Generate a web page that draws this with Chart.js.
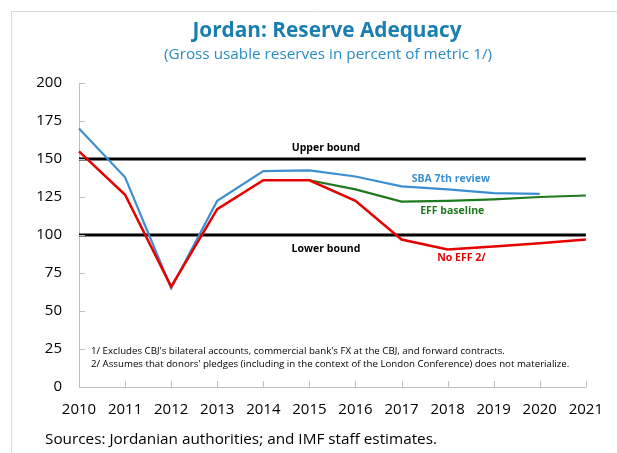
<!DOCTYPE html>
<html>
<head>
<meta charset="utf-8">
<script src="https://cdn.jsdelivr.net/npm/chart.js@4.4.1/dist/chart.umd.min.js"></script>
<style>
  html, body { margin: 0; padding: 0; background: #fff; }
</style>
</head>
<body>
<canvas id="reserveChart" width="617" height="453"></canvas>
<script>
const years = ['2010', '2011', '2012', '2013', '2014', '2015', '2016', '2017', '2018', '2019', '2020', '2021'];
const sba7thReview = [170, 138, 65, 122.5, 142, 142.5, 138.5, 132, 130, 127.5, 127, null];
const effBaseline = [null, null, null, null, null, 136, 130, 122, 122.5, 123.5, 125, 126];
const noEff = [155, 126.5, 66, 117, 136, 136, 122.5, 97, 90.5, 92.5, 94.5, 97];
const upperBound = years.map(() => 150);
const lowerBound = years.map(() => 100);
const yMin = 0, yMax = 200, yStep = 25;

const footnotes = [
    "1/ Excludes CBJ's bilateral accounts, commercial bank's FX at the CBJ, and forward contracts.",
    "2/ Assumes that donors' pledges (including in the context of the London Conference) does not materialize."
];
const sourceNote = 'Sources: Jordanian authorities; and IMF staff estimates.';

const FONT = '"Open Sans", "DejaVu Sans", sans-serif';

// frame, inside ticks, titles and line labels
const decorations = {
    id: 'decorations',
    beforeDraw(chart) {
        const ctx = chart.ctx;
        ctx.save();
        ctx.strokeStyle = '#d9d9d9';
        ctx.lineWidth = 1;
        ctx.beginPath();
        ctx.moveTo(11.5, 453);
        ctx.lineTo(11.5, 11.5);
        ctx.lineTo(617, 11.5);
        ctx.stroke();
        ctx.restore();
    },
    afterDraw(chart) {
        const ctx = chart.ctx;
        const x = chart.scales.x;
        const y = chart.scales.y;
        const area = chart.chartArea;
        ctx.save();

        // ticks pointing into the plot
        ctx.strokeStyle = '#bfbfbf';
        ctx.lineWidth = 1;
        ctx.beginPath();
        x.ticks.forEach((t, i) => {
            const px = Math.round(x.getPixelForTick(i)) + 0.5;
            ctx.moveTo(px, area.bottom);
            ctx.lineTo(px, area.bottom - 6);
        });
        y.ticks.forEach((t, i) => {
            const py = Math.round(y.getPixelForTick(i)) + 0.5;
            ctx.moveTo(area.left, py);
            ctx.lineTo(area.left + 6, py);
        });
        ctx.stroke();

        // titles
        ctx.textAlign = 'center';
        ctx.textBaseline = 'middle';
        ctx.fillStyle = '#1a7fb0';
        ctx.font = 'bold 20.8px ' + FONT;
        ctx.fillText('Jordan: Reserve Adequacy', 327, 31);
        ctx.fillStyle = '#2a8cc2';
        ctx.font = '15.3px ' + FONT;
        ctx.fillText('(Gross usable reserves in percent of metric 1/)', 328, 55);

        // bound and series labels
        ctx.font = 'bold 10.5px ' + FONT;
        ctx.fillStyle = '#000';
        ctx.fillText('Upper bound', x.getPixelForValue(5.36), y.getPixelForValue(157));
        ctx.fillText('Lower bound', x.getPixelForValue(5.36), y.getPixelForValue(91));
        ctx.fillStyle = '#3b8fd1';
        ctx.fillText('SBA 7th review', x.getPixelForValue(8.07), y.getPixelForValue(137));
        ctx.fillStyle = '#1f7a1f';
        ctx.fillText('EFF baseline', x.getPixelForValue(8.1), y.getPixelForValue(116));
        ctx.fillStyle = '#e60000';
        ctx.fillText('No EFF 2/', x.getPixelForValue(8.3), y.getPixelForValue(85));

        // footnotes
        ctx.textAlign = 'left';
        ctx.fillStyle = '#000';
        ctx.font = '9.7px ' + FONT;
        ctx.fillText(footnotes[0], 91, 351);
        ctx.fillText(footnotes[1], 91, 364);

        // sources
        ctx.font = '15.3px ' + FONT;
        ctx.fillText(sourceNote, 45, 440);
        ctx.restore();
    }
};

new Chart(document.getElementById('reserveChart'), {
    type: 'line',
    data: {
        labels: years,
        datasets: [
            { label: 'No EFF 2/', data: noEff, borderColor: '#e60000', borderWidth: 2.5, order: 1 },
            { label: 'SBA 7th review', data: sba7thReview, borderColor: '#3b8fd1', borderWidth: 2.2, order: 2 },
            { label: 'EFF baseline', data: effBaseline, borderColor: '#1f7a1f', borderWidth: 2.2, order: 3 },
            { label: 'Upper bound', data: upperBound, borderColor: '#000', borderWidth: 3, order: 4 },
            { label: 'Lower bound', data: lowerBound, borderColor: '#000', borderWidth: 3, order: 4 }
        ]
    },
    options: {
        responsive: false,
        animation: false,
        spanGaps: false,
        elements: {
            point: { radius: 0, hoverRadius: 0 },
            line: { tension: 0, borderCapStyle: 'butt' }
        },
        layout: { padding: { left: 0, right: 31, top: 83, bottom: 31 } },
        plugins: {
            legend: { display: false },
            title: { display: false },
            tooltip: { enabled: false }
        },
        scales: {
            x: {
                offset: false,
                grid: { display: true, drawOnChartArea: false, drawTicks: false },
                border: { color: '#bfbfbf', width: 1 },
                ticks: { color: '#000', font: { family: FONT, size: 15 }, padding: 14, maxRotation: 0, autoSkip: false },
                afterFit(scale) { scale.height = 35; }
            },
            y: {
                min: yMin,
                max: yMax,
                grid: { display: true, drawOnChartArea: false, drawTicks: false },
                border: { color: '#bfbfbf', width: 1 },
                ticks: { stepSize: yStep, color: '#000', font: { family: FONT, size: 15 }, padding: 17 },
                afterFit(scale) { scale.width = 79; }
            }
        }
    },
    plugins: [decorations]
});
</script>
</body>
</html>
